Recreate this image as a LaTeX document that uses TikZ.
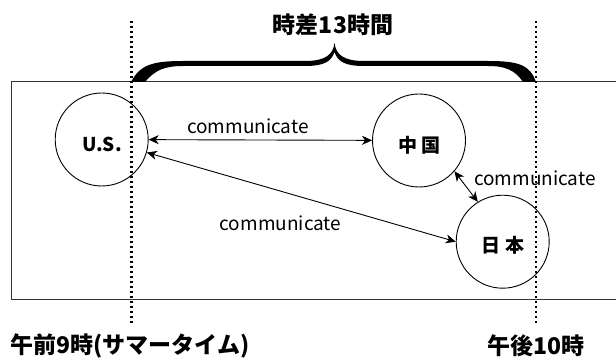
\documentclass[tikz,border=0pt]{standalone}
\usepackage{fontspec}
\setmainfont{Noto Sans CJK JP}
\usetikzlibrary{arrows.meta}
\tikzset{
  circ/.style={circle, draw=black, line width=0.9pt, minimum size=93pt, inner sep=0pt},
  lbl/.style={font=\fontsize{19}{19}\selectfont, inner sep=0pt},
  blbl/.style={font=\bfseries\fontsize{19}{19}\selectfont, inner sep=0pt},
  bigl/.style={font=\bfseries\fontsize{23}{23}\selectfont, inner sep=0pt},
  arr/.style={line width=0.9pt, {Stealth[length=10pt,width=9pt,inset=3pt]}-{Stealth[length=10pt,width=9pt,inset=3pt]}},
  dots/.style={line width=2.3pt, dash pattern=on 2.3pt off 2.7pt},
}
\begin{document}
\begin{tikzpicture}[x=1pt,y=-1pt]
\useasboundingbox (0,0) rectangle (616,358);
\draw[line width=1pt, draw=black!80] (11.5,82) rectangle (630,299);
% brace
\fill[black] (131,82) .. controls (140,65) and (152,61) .. (183,61) -- (305,61)
  .. controls (325,61) and (333,55) .. (334.5,43)
  .. controls (336,55) and (344,61) .. (364,61) -- (488,61)
  .. controls (519,61) and (530,65) .. (536,82)
  -- (523,82) .. controls (515,70) and (505,66) .. (488,66) -- (364,66)
  .. controls (344,66) and (337.5,61) .. (334.5,52)
  .. controls (331.5,61) and (325,66) .. (305,66) -- (183,66)
  .. controls (165,66) and (155,70) .. (145,82) -- cycle;
% circles
\node[circ] (us) at (101.7,139.5) {};
\node[circ] (cn) at (419,140.5) {};
\node[circ] (jp) at (502.7,241.7) {};
\node[blbl] (ust) at (102,144) {U.S.};
\node[blbl] (cnt) at (419.2,145) {中 国};
\node[blbl] (jpt) at (503,245) {日 本};
% arrows
\draw[arr] (us) -- (cn);
\draw[arr] (us) -- (jp.west);
\draw[arr] (cn.-41) -- (jp.122);
\node[lbl] (c1) at (248,126) {communicate};
\node[lbl] (c2) at (280.5,223) {communicate};
\node[lbl] (c3) at (535,178) {communicate};
% texts
\node[bigl] (title) at (333,25) {時差13時間};
\node[bigl] (lt) at (130,346) {午前9時(サマータイム)};
\node[bigl] (rt) at (536,346) {午後10時};
% dotted lines
\coordinate (d1t) at (131.5,21);
\coordinate (d1b) at (131.5,325);
\coordinate (d2t) at (535.7,21);
\coordinate (d2b) at (535.7,325);
\draw[dots] (d1t) -- (d1b);
\draw[dots] (d2t) -- (d2b);
\end{tikzpicture}
\end{document}
